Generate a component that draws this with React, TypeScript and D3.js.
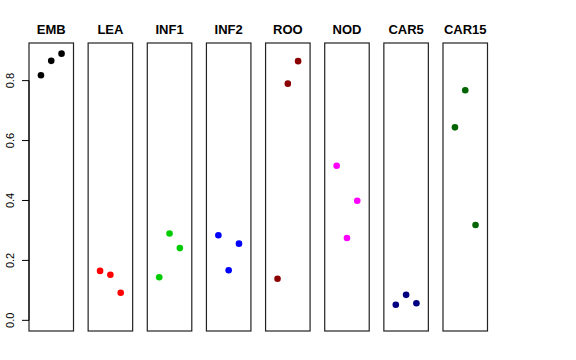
import React from "react";
import * as d3 from "d3";

const categories = ["EMB", "LEA", "INF1", "INF2", "ROO", "NOD", "CAR5", "CAR15"];
const colors = ["#000000", "#FF0000", "#00CD00", "#0000FF", "#8B0000", "#FF00FF", "#000080", "#006400"];
const xPositions = [1, 2, 3];
const values: number[][] = [
  [0.818, 0.866, 0.890],
  [0.165, 0.152, 0.092],
  [0.144, 0.290, 0.241],
  [0.284, 0.167, 0.256],
  [0.139, 0.790, 0.865],
  [0.516, 0.275, 0.399],
  [0.052, 0.085, 0.057],
  [0.644, 0.768, 0.318],
];
const yTicks = [0.0, 0.2, 0.4, 0.6, 0.8];

const W = 576;
const H = 360;

export default function App() {
  const top = 43;
  const bottom = 331;
  const yMin = 0;
  const yMax = 0.89;
  const ext = (yMax - yMin) * 0.04;
  const y = d3.scaleLinear().domain([yMin - ext, yMax + ext]).range([bottom, top]);
  const band = d3.scaleBand<string>().domain(categories).range([29, 487.5]).paddingInner(0.2475).paddingOuter(0);
  const bw = band.bandwidth();
  const xExt = 4 * 0.04;
  const x = d3.scaleLinear().domain([0 - xExt, 4 + xExt]).range([0, bw]);
  const font = "'Liberation Sans', Arial, Helvetica, sans-serif";

  return (
    <svg width={W} height={H} style={{ position: "absolute", left: 0, top: 0, background: "#fff" }} fontFamily={font}>
      {categories.map((c, i) => {
        const x0 = band(c)!;
        return (
          <g key={c}>
            <text x={x0 + bw / 2} y={33.5} textAnchor="middle" fontWeight="bold" fontSize={13}>
              {c}
            </text>
            {values[i].map((v, j) => (
              <circle key={j} cx={x0 + x(xPositions[j])} cy={y(v)} r={3.3} fill={colors[i]} />
            ))}
            <rect x={x0} y={top} width={bw} height={bottom - top} fill="none" stroke="#222" strokeWidth={1.2} />
          </g>
        );
      })}
      <g>
        <line x1={29} x2={29} y1={y(yTicks[0])} y2={y(yTicks[yTicks.length - 1])} stroke="#000" />
        {yTicks.map((t) => (
          <g key={t}>
            <line x1={22} x2={29} y1={y(t)} y2={y(t)} stroke="#000" />
            <text
              transform={`translate(13.5,${y(t)}) rotate(-90)`}
              textAnchor="middle"
              fontSize={11}
            >
              {t.toFixed(1)}
            </text>
          </g>
        ))}
      </g>
    </svg>
  );
}
